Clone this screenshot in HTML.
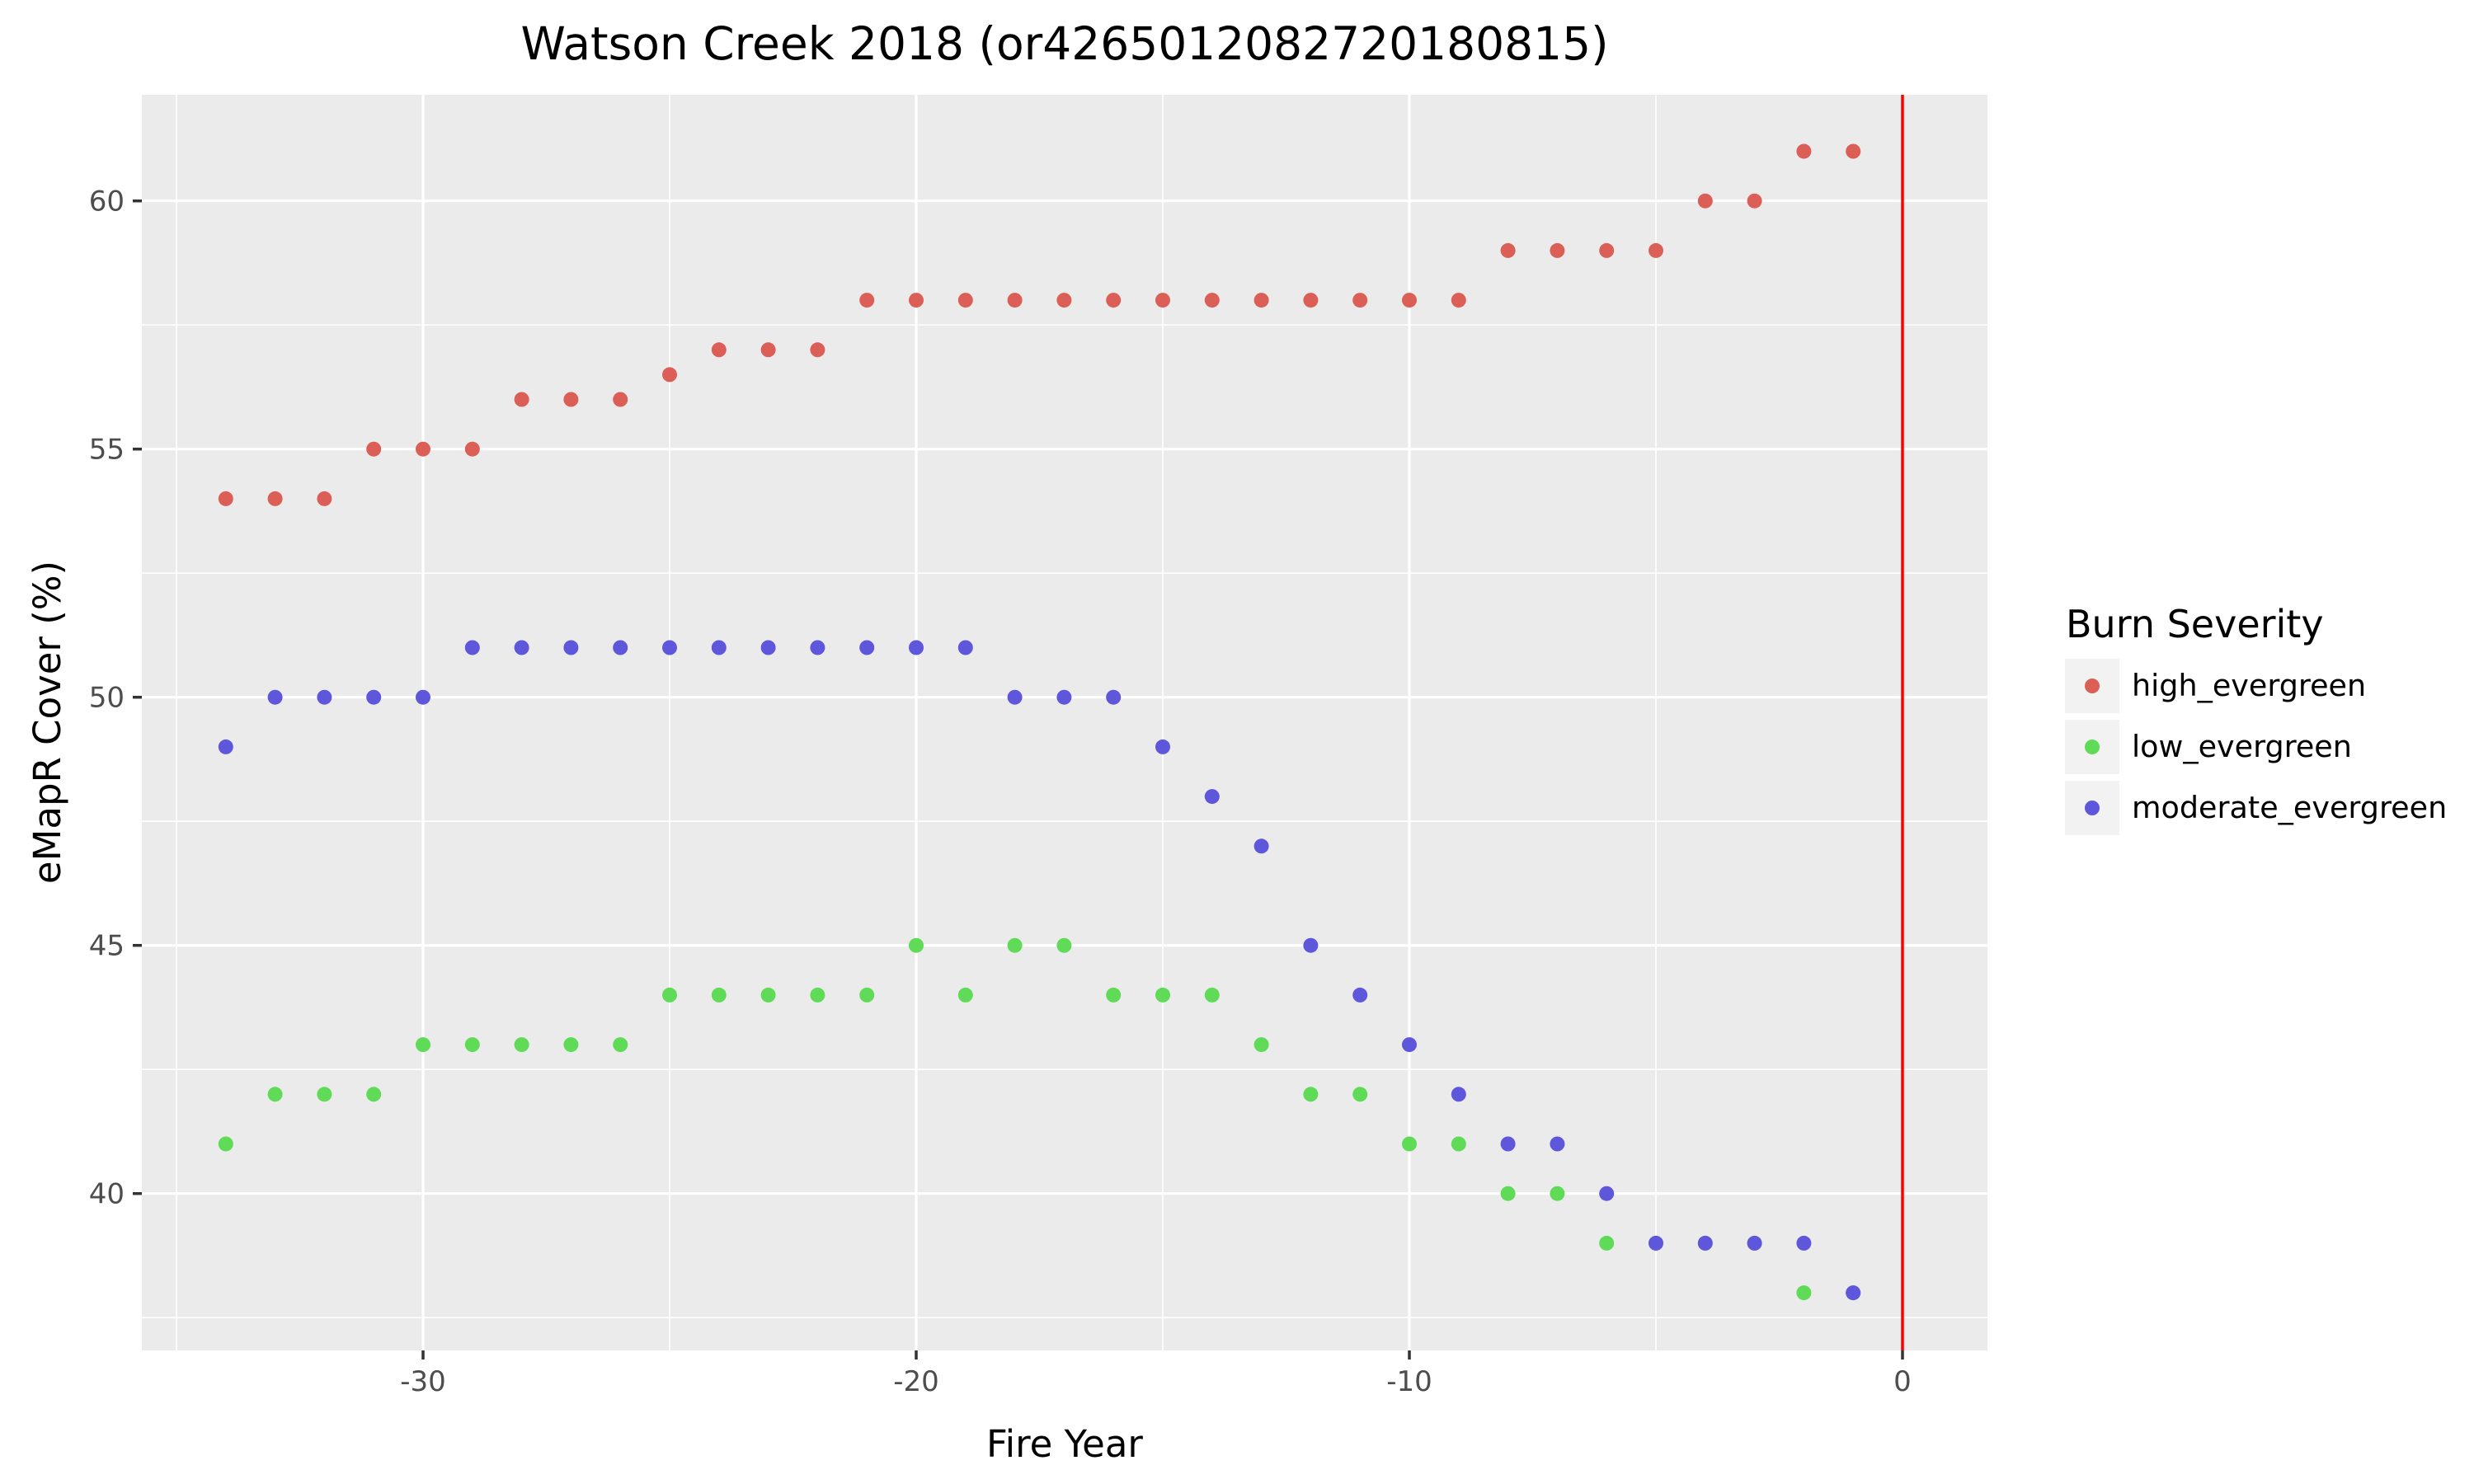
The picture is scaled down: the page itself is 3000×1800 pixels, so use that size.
<!DOCTYPE html>
<html><head><meta charset="utf-8"><style>body{margin:0;background:#fff}svg{display:block}</style></head><body>
<svg width="3000" height="1800" xmlns="http://www.w3.org/2000/svg" font-family="DejaVu Sans, Liberation Sans, sans-serif">
<rect width="3000" height="1800" fill="#fff"/>
<rect x="172" y="115" width="2238" height="1523" fill="#EBEBEB"/>
<g id="grid"></g>
<g id="pts"></g>
<line x1="2307" y1="115" x2="2307" y2="1638" stroke="#FF0000" stroke-width="3.5"/>
<g id="ticks" stroke="#333" stroke-width="3.5"></g>
<g id="labels" fill="#4D4D4D" font-size="34"></g>
<text x="1291" y="72" font-size="55" text-anchor="middle" fill="#000">Watson Creek 2018 (or426501208272018081​5)</text>
<text x="1291" y="1767" font-size="45" text-anchor="middle" fill="#000">Fire Year</text>
<text transform="translate(73,876) rotate(-90)" font-size="45" text-anchor="middle" fill="#000">eMapR Cover (%)</text>
<text x="2505" y="773" font-size="46" fill="#000">Burn Severity</text>
<rect x="2504" y="799" width="66" height="66" fill="#F2F2F2"/>
<rect x="2504" y="873" width="66" height="66" fill="#F2F2F2"/>
<rect x="2504" y="947" width="66" height="66" fill="#F2F2F2"/>
<circle cx="2537" cy="832" r="9" fill="#DB5F57"/>
<circle cx="2537" cy="906" r="9" fill="#5FDB57"/>
<circle cx="2537" cy="980" r="9" fill="#5F57DB"/>
<text x="2585" y="844" font-size="36.5" fill="#000">high_evergreen</text>
<text x="2585" y="918" font-size="36.5" fill="#000">low_evergreen</text>
<text x="2585" y="992" font-size="36.5" fill="#000">moderate_evergreen</text>
</svg>
<script>
const NS="http://www.w3.org/2000/svg";
const X=v=>2307+v*59.8, Y=v=>243.7-(v-60)*60.2;
function el(p,t,a){const e=document.createElementNS(NS,t);for(const k in a)e.setAttribute(k,a[k]);p.appendChild(e);return e;}
const g=document.getElementById('grid');
for(let v=37.5;v<=62;v+=5)el(g,'line',{x1:172,x2:2410,y1:Y(v),y2:Y(v),stroke:'#fff','stroke-width':1.6});
for(let v=-35;v<=1;v+=10)el(g,'line',{y1:115,y2:1638,x1:X(v),x2:X(v),stroke:'#fff','stroke-width':1.6});
for(let v=40;v<=60;v+=5)el(g,'line',{x1:172,x2:2410,y1:Y(v),y2:Y(v),stroke:'#fff','stroke-width':3.2});
for(let v=-30;v<=0;v+=10)el(g,'line',{y1:115,y2:1638,x1:X(v),x2:X(v),stroke:'#fff','stroke-width':3.2});
const tk=document.getElementById('ticks'),lb=document.getElementById('labels');
for(let v=40;v<=60;v+=5){el(tk,'line',{x1:161,x2:172,y1:Y(v),y2:Y(v)});const t=el(lb,'text',{x:151,y:Y(v)+12,'text-anchor':'end'});t.textContent=v;}
for(let v=-30;v<=0;v+=10){el(tk,'line',{x1:X(v),x2:X(v),y1:1638,y2:1649});const t=el(lb,'text',{x:X(v),y:1687,'text-anchor':'middle'});t.textContent=v;}
const high=[54,54,54,55,55,55,56,56,56,56.5,57,57,57,58,58,58,58,58,58,58,58,58,58,58,58,58,59,59,59,59,60,60,61,61];
const low=[41,42,42,42,43,43,43,43,43,44,44,44,44,44,45,44,45,45,44,44,44,43,42,42,41,41,40,40,39,39,39,39,38,38];
const mod=[49,50,50,50,50,51,51,51,51,51,51,51,51,51,51,51,50,50,50,49,48,47,45,44,43,42,41,41,40,39,39,39,39,38];
const p=document.getElementById('pts');
[[high,'#DB5F57'],[low,'#5FDB57'],[mod,'#5F57DB']].forEach(([d,c])=>d.forEach((v,i)=>el(p,'circle',{cx:X(-34+i),cy:Y(v),r:9,fill:c})));
</script>
</body></html>
